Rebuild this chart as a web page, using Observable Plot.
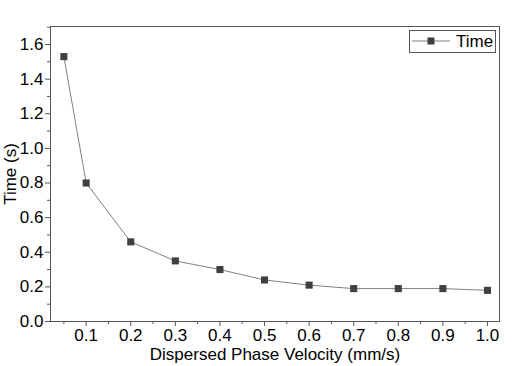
<!DOCTYPE html>
<html><head><meta charset="utf-8">
<script src="https://cdn.jsdelivr.net/npm/d3@7"></script>
<script src="https://cdn.jsdelivr.net/npm/@observablehq/plot@0.6"></script>
<style>
body{margin:0;background:#fff;font-family:"Liberation Sans",Arial,sans-serif;}
#wrap{position:relative;width:516px;height:366px;}
#wrap svg text{font-size:17px !important;font-family:"Liberation Sans",Arial,sans-serif;}
#legend{position:absolute;left:409px;top:30px;width:87px;height:23px;border:1px solid #555;background:#fff;box-sizing:border-box;font-size:17px;color:#000;}
#legend svg{position:absolute;left:2px;top:5px;}
#legend span{position:absolute;left:46px;top:1px;}
</style></head>
<body><div id="wrap"><div id="legend"><svg width="40" height="10"><line x1="0" y1="5" x2="38" y2="5" stroke="#808080" stroke-width="1"/><rect x="15.5" y="1.5" width="7" height="7" fill="#404040"/></svg><span>Time</span></div></div>
<script>
const velocity = [0.05, 0.1, 0.2, 0.3, 0.4, 0.5, 0.6, 0.7, 0.8, 0.9, 1.0];
const time = [1.53, 0.80, 0.46, 0.35, 0.30, 0.24, 0.21, 0.19, 0.19, 0.19, 0.18];
const xTicks = [0.1, 0.2, 0.3, 0.4, 0.5, 0.6, 0.7, 0.8, 0.9, 1.0];
const xMinor = [0.05, 0.15, 0.25, 0.35, 0.45, 0.55, 0.65, 0.75, 0.85, 0.95];
const yTicks = [0, 0.2, 0.4, 0.6, 0.8, 1.0, 1.2, 1.4, 1.6];
const yMinor = [0.1, 0.3, 0.5, 0.7, 0.9, 1.1, 1.3, 1.5, 1.7];
const data = velocity.map((v, i) => ({v, t: time[i]}));
const FS = 17;

const chart = Plot.plot({
  width: 516, height: 366,
  marginLeft: 50, marginRight: 17, marginTop: 26, marginBottom: 45,
  style: {fontFamily: '"Liberation Sans", Arial, sans-serif', fontSize: FS + "px", color: "#000", background: "#fff"},
  x: {domain: [0.02, 1.027]},
  y: {domain: [0, 1.704]},
  marks: [
    Plot.axisX({ticks: xMinor, tickSize: 3, text: null, label: null, stroke: "#555"}),
    Plot.axisX({ticks: xTicks, tickSize: 5, tickPadding: 2, tickFormat: d3.format(".1f"), stroke: "#555", fontSize: FS,
      label: "Dispersed Phase Velocity (mm/s)", labelAnchor: "center", labelArrow: "none", labelOffset: 38}),
    Plot.axisY({ticks: yMinor, tickSize: 3, text: null, label: null, stroke: "#555"}),
    Plot.axisY({ticks: yTicks, tickSize: 5, tickPadding: 2, tickFormat: d3.format(".1f"), stroke: "#555", fontSize: FS,
      label: "Time (s)", labelAnchor: "center", labelArrow: "none", labelOffset: 47}),
    Plot.frame({stroke: "#555"}),
    Plot.line(data, {x: "v", y: "t", stroke: "#808080", strokeWidth: 1}),
    Plot.dot(data, {x: "v", y: "t", symbol: "square", r: 4, fill: "#404040", stroke: "none"})
  ]
});
document.getElementById("wrap").prepend(chart);
</script></body></html>
